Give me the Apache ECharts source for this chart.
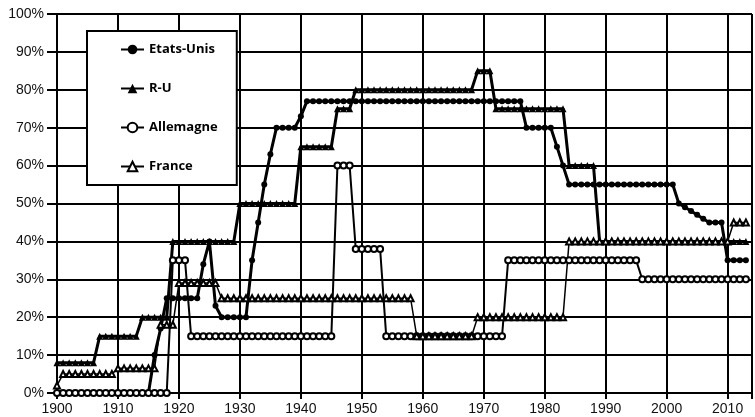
<!DOCTYPE html>
<html>
<head>
<meta charset="utf-8">
<script src="https://cdn.jsdelivr.net/npm/echarts@6/dist/echarts.min.js"></script>
<style>
  html, body { margin: 0; padding: 0; background: #fff; }
  #chart { width: 755px; height: 417px; }
</style>
</head>
<body>
<div id="chart"></div>
<script>
(function() {
  // years 1900 .. 2013 (one point per year)
  var years = [];
  for (var yr = 1900; yr <= 2013; yr++) years.push(yr);

  // top rates in %, one row per decade
  var usa = [
    0, 0, 0, 0, 0, 0, 0, 0, 0, 0,
    0, 0, 0, 0, 0, 0, 10, 17, 25, 25,
    25, 25, 25, 25, 34, 40, 23, 20, 20, 20,
    20, 20, 35, 45, 55, 63, 70, 70, 70, 70,
    73, 77, 77, 77, 77, 77, 77, 77, 77, 77,
    77, 77, 77, 77, 77, 77, 77, 77, 77, 77,
    77, 77, 77, 77, 77, 77, 77, 77, 77, 77,
    77, 77, 77, 77, 77, 77, 77, 70, 70, 70,
    70, 70, 65, 60, 55, 55, 55, 55, 55, 55,
    55, 55, 55, 55, 55, 55, 55, 55, 55, 55,
    55, 55, 50, 49, 48, 47, 46, 45, 45, 45,
    35, 35, 35, 35
  ];
  var uk = [
    8, 8, 8, 8, 8, 8, 8, 15, 15, 15,
    15, 15, 15, 15, 20, 20, 20, 20, 20, 40,
    40, 40, 40, 40, 40, 40, 40, 40, 40, 40,
    50, 50, 50, 50, 50, 50, 50, 50, 50, 50,
    65, 65, 65, 65, 65, 65, 75, 75, 75, 80,
    80, 80, 80, 80, 80, 80, 80, 80, 80, 80,
    80, 80, 80, 80, 80, 80, 80, 80, 80, 85,
    85, 85, 75, 75, 75, 75, 75, 75, 75, 75,
    75, 75, 75, 75, 60, 60, 60, 60, 60, 40,
    40, 40, 40, 40, 40, 40, 40, 40, 40, 40,
    40, 40, 40, 40, 40, 40, 40, 40, 40, 40,
    40, 40, 40, 40
  ];
  var germany = [
    0, 0, 0, 0, 0, 0, 0, 0, 0, 0,
    0, 0, 0, 0, 0, 0, 0, 0, 0, 35,
    35, 35, 15, 15, 15, 15, 15, 15, 15, 15,
    15, 15, 15, 15, 15, 15, 15, 15, 15, 15,
    15, 15, 15, 15, 15, 15, 60, 60, 60, 38,
    38, 38, 38, 38, 15, 15, 15, 15, 15, 15,
    15, 15, 15, 15, 15, 15, 15, 15, 15, 15,
    15, 15, 15, 15, 35, 35, 35, 35, 35, 35,
    35, 35, 35, 35, 35, 35, 35, 35, 35, 35,
    35, 35, 35, 35, 35, 35, 30, 30, 30, 30,
    30, 30, 30, 30, 30, 30, 30, 30, 30, 30,
    30, 30, 30, 30
  ];
  var france = [
    2, 5, 5, 5, 5, 5, 5, 5, 5, 5,
    6.5, 6.5, 6.5, 6.5, 6.5, 6.5, 6.5, 18, 18, 18,
    29, 29, 29, 29, 29, 29, 29, 25, 25, 25,
    25, 25, 25, 25, 25, 25, 25, 25, 25, 25,
    25, 25, 25, 25, 25, 25, 25, 25, 25, 25,
    25, 25, 25, 25, 25, 25, 25, 25, 25, 15,
    15, 15, 15, 15, 15, 15, 15, 15, 15, 20,
    20, 20, 20, 20, 20, 20, 20, 20, 20, 20,
    20, 20, 20, 20, 40, 40, 40, 40, 40, 40,
    40, 40, 40, 40, 40, 40, 40, 40, 40, 40,
    40, 40, 40, 40, 40, 40, 40, 40, 40, 40,
    40, 45, 45, 45
  ];

  function pairs(vals) {
    return years.map(function(y, i) { return [y, vals[i]]; });
  }

  var ink = '#000';
  var chart = echarts.init(document.getElementById('chart'), null, { renderer: 'canvas' });
  chart.setOption({
    animation: false,
    backgroundColor: '#fff',
    grid: { left: 57, right: -1, top: 14, bottom: 24 },
    legend: {
      orient: 'vertical',
      left: 87,
      top: 31,
      padding: [12, 19, 12, 33],
      itemWidth: 23,
      itemHeight: 12,
      itemGap: 26,
      backgroundColor: '#fff',
      borderColor: ink,
      borderWidth: 2,
      textStyle: { color: ink, fontFamily: 'Open Sans', fontWeight: 'bold', fontSize: 13 },
      data: ['Etats-Unis', 'R-U', 'Allemagne', 'France']
    },
    xAxis: {
      type: 'value',
      min: 1900,
      max: 2014,
      interval: 10,
      axisLine: { lineStyle: { color: ink, width: 2 } },
      axisTick: { show: true, length: 6, lineStyle: { color: ink, width: 2 } },
      axisLabel: {
        color: '#111', fontFamily: 'Arial', fontSize: 14, margin: 9,
        formatter: function(v) { return v % 10 === 0 ? String(v) : ''; }
      },
      splitLine: { show: true, lineStyle: { color: ink, width: 2 } }
    },
    yAxis: {
      type: 'value',
      min: 0,
      max: 100,
      interval: 10,
      axisLine: { show: true, lineStyle: { color: ink, width: 2 } },
      axisTick: { show: true, length: 10, lineStyle: { color: ink, width: 2 } },
      axisLabel: { color: '#111', fontFamily: 'Arial', fontSize: 14, margin: 13, formatter: '{value}%' },
      splitLine: { show: true, lineStyle: { color: ink, width: 2 } }
    },
    series: [
      {
        name: 'Etats-Unis', type: 'line', data: pairs(usa),
        symbol: 'circle', symbolSize: 6, showAllSymbol: true,
        lineStyle: { color: ink, width: 3 }, itemStyle: { color: ink }
      },
      {
        name: 'R-U', type: 'line', data: pairs(uk),
        symbol: 'triangle', symbolSize: 7, showAllSymbol: true,
        lineStyle: { color: ink, width: 3 }, itemStyle: { color: ink }
      },
      {
        name: 'Allemagne', type: 'line', data: pairs(germany),
        symbol: 'emptyCircle', symbolSize: 6, showAllSymbol: true,
        lineStyle: { color: ink, width: 2 }, itemStyle: { color: ink, borderColor: ink, borderWidth: 1.5 }
      },
      {
        name: 'France', type: 'line', data: pairs(france),
        symbol: 'emptyTriangle', symbolSize: 6, showAllSymbol: true,
        lineStyle: { color: ink, width: 1.5 }, itemStyle: { color: ink, borderColor: ink, borderWidth: 1 }
      }
    ]
  });
  window.addEventListener('resize', function() { chart.resize(); });
})();
</script>
</body>
</html>
